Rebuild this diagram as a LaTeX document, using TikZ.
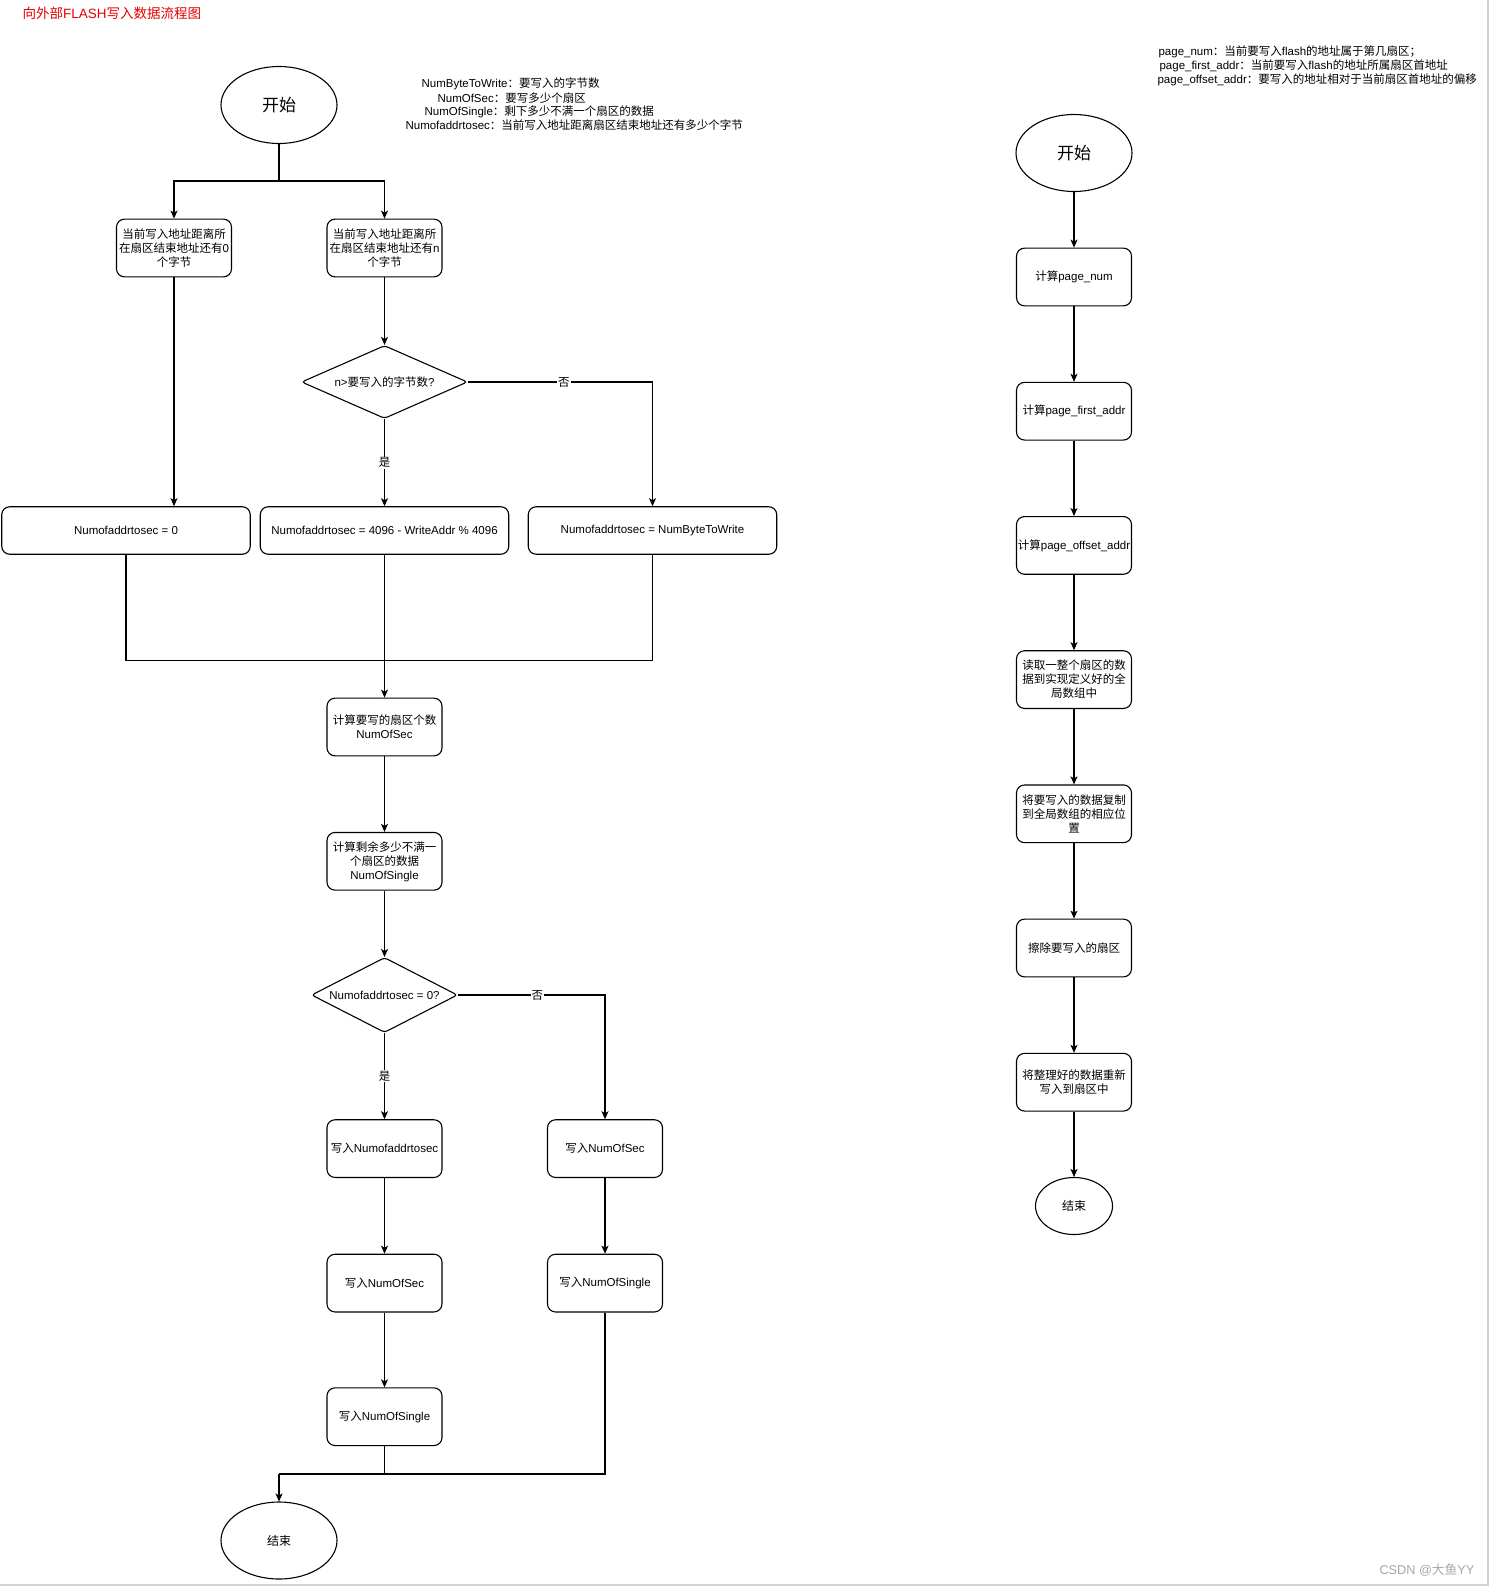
\documentclass[tikz,border=0pt]{standalone}
\usepackage{fontspec}
\setmainfont{Liberation Sans}
\newfontfamily\cjkfont{Noto Sans CJK SC}
\XeTeXinterchartokenstate=1
\newXeTeXintercharclass\cjkcls
\newcount\cjkcnt
\newcommand\setcjkrange[2]{\cjkcnt=#1\relax
  \loop\XeTeXcharclass\cjkcnt=\cjkcls\relax
  \ifnum\cjkcnt<#2\relax\advance\cjkcnt by 1\relax\repeat}
\setcjkrange{"3000}{"303F}
\setcjkrange{"4E00}{"9FFF}
\setcjkrange{"FF00}{"FFEF}
\XeTeXinterchartoks 0 \cjkcls = {\cjkfont}
\XeTeXinterchartoks 4095 \cjkcls = {\cjkfont}
\XeTeXinterchartoks \cjkcls 0 = {\normalfont}
\XeTeXinterchartoks \cjkcls 4095 = {\normalfont}
\usetikzlibrary{shapes.geometric,arrows.meta}
\definecolor{titlered}{RGB}{228,0,0}
\tikzset{every path/.style={line width=1.1pt},
  proc/.style={draw,rounded corners=8pt,minimum width=115pt,minimum height=57.7pt,
    inner sep=1pt,align=center,font=\fontsize{11.5}{14}\selectfont},
  wide/.style={proc,minimum width=248.5pt,minimum height=47.5pt},
  decision/.style={draw,diamond,rounded corners=3pt,inner sep=0pt,align=center,
    font=\fontsize{11.5}{14}\selectfont},
  terminal/.style={draw,ellipse,minimum width=116pt,minimum height=77pt,
    font=\fontsize{17}{20}\selectfont},
  note/.style={anchor=west,inner sep=0pt,font=\fontsize{11.5}{14}\selectfont},
  lbl/.style={fill=white,inner sep=1pt,font=\fontsize{11.5}{14}\selectfont},
  arr/.style={-{Stealth[length=8pt,width=7pt,inset=2pt]}}}

\begin{document}
\begin{tikzpicture}[x=1pt,y=-1pt]
    \useasboundingbox (0,0) rectangle (1489,1586);
    \draw[gray!35,line width=2pt] (1488,0) -- (1488,1585) -- (0,1585);

    \node[note,text=titlered,font=\fontsize{13.5}{16}\selectfont] (title) at (22,13) {向外部FLASH写入数据流程图};
    \node[note] (n1) at (421,84) {NumByteToWrite：要写入的字节数};
    \node[note] (n2) at (437,98) {NumOfSec：要写多少个扇区};
    \node[note] (n3) at (424,111.5) {NumOfSingle：剩下多少不满一个扇区的数据};
    \node[note] (n4) at (405,125.5) {Numofaddrtosec：当前写入地址距离扇区结束地址还有多少个字节};
    \node[note] (m1) at (1158,51.6) {page\_num：当前要写入flash的地址属于第几扇区；};
    \node[note] (m2) at (1159,65.7) {page\_first\_addr：当前要写入flash的地址所属扇区首地址};
    \node[note] (m3) at (1157,79.9) {page\_offset\_addr：要写入的地址相对于当前扇区首地址的偏移};
    \node[note,text=gray!70,font=\fontsize{12.7}{15}\selectfont] (wm) at (1379,1570) {CSDN @大鱼YY};

    % left flow
    \node[terminal] (s1) at (279,105) {开始};
    \node[proc] (b1) at (174,248) {当前写入地址距离所\\在扇区结束地址还有0\\个字节};
    \node[proc] (b2) at (384.5,248) {当前写入地址距离所\\在扇区结束地址还有n\\个字节};
    \node[decision,aspect=2.27,minimum width=166pt,minimum height=73pt] (d1) at (384.5,382) {n>要写入的字节数?};
    \node[wide] (A) at (126,530.5) {Numofaddrtosec = 0};
    \node[wide] (B) at (384.5,530.5) {Numofaddrtosec = 4096 - WriteAddr \% 4096};
    \node[wide] (C) at (652.5,530.5) {Numofaddrtosec = NumByteToWrite};
    \node[proc] (sec) at (384.5,727) {计算要写的扇区个数\\NumOfSec};
    \node[proc] (sgl) at (384.5,861.3) {计算剩余多少不满一\\个扇区的数据\\NumOfSingle};
    \node[decision,aspect=1.95,minimum width=146pt,minimum height=75pt] (d2) at (384.5,995) {Numofaddrtosec = 0?};
    \node[proc] (w1) at (384.5,1148.6) {写入Numofaddrtosec};
    \node[proc] (w2) at (384.5,1283.1) {写入NumOfSec};
    \node[proc] (w3) at (384.5,1416.7) {写入NumOfSingle};
    \node[proc] (v1) at (605,1148.6) {写入NumOfSec};
    \node[proc] (v2) at (605,1283.1) {写入NumOfSingle};
    \node[terminal,font=\fontsize{12}{14}\selectfont] (e1) at (279,1540.5) {结束};

    \coordinate (j1) at (279,181);
    \coordinate (j2) at (384.5,660.5);
    \coordinate (j3) at (279,1474);
    \draw (s1) -- (j1);
    \draw[arr] (j1) -| (b1);
    \draw[arr] (j1) -| (b2);
    \draw[arr] (b1) -- (b1 |- A.north);
    \draw[arr] (b2) -- (d1);
    \draw[arr] (d1) -- node[lbl] {是} (B);
    \draw[arr] (d1) -| node[lbl,pos=0.26] {否} (C);
    \draw (A) |- (j2);
    \draw (C) |- (j2);
    \draw[arr] (B) -- (sec);
    \draw[arr] (sec) -- (sgl);
    \draw[arr] (sgl) -- (d2);
    \draw[arr] (d2) -- node[lbl] {是} (w1);
    \draw[arr] (d2) -| node[lbl,pos=0.27] {否} (v1);
    \draw[arr] (w1) -- (w2);
    \draw[arr] (w2) -- (w3);
    \draw[arr] (v1) -- (v2);
    \draw (w3) |- (j3);
    \draw (v2) |- (j3);
    \draw[arr] (j3) -- (e1);

    % right flow
    \node[terminal] (rs) at (1074,153) {开始};
    \foreach \txt [count=\i] in {{计算page\_num},{计算page\_first\_addr},{计算page\_offset\_addr},
        {读取一整个扇区的数\\据到实现定义好的全\\局数组中},{将要写入的数据复制\\到全局数组的相应位\\置},
        {擦除要写入的扇区},{将整理好的数据重新\\写入到扇区中}}
      \node[proc] (r\i) at (1074,{277+134.2*(\i-1)}) {\txt};
    \node[terminal,minimum width=77pt,minimum height=57pt,font=\fontsize{12}{14}\selectfont] (re) at (1074,1206) {结束};

    \draw[arr] (rs) -- (r1);
    \foreach \i [evaluate=\i as \j using int(\i+1)] in {1,...,6}
      \draw[arr] (r\i) -- (r\j);
    \draw[arr] (r7) -- (re);
\end{tikzpicture}
\end{document}
